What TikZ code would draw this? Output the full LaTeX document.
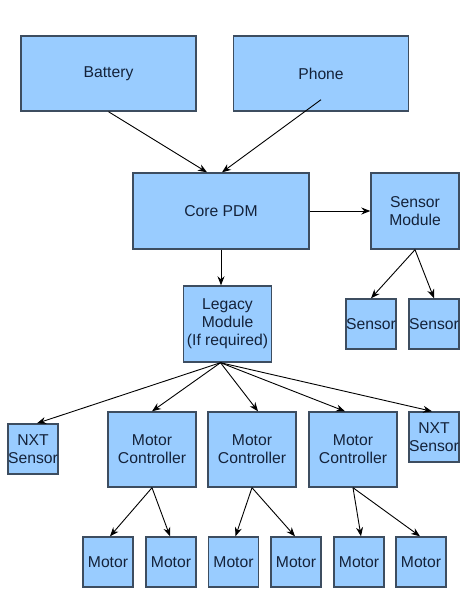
\documentclass[tikz,border=0pt]{standalone}
\usepackage{fontspec}
\setmainfont{Liberation Sans}
\usetikzlibrary{arrows.meta}

\begin{document}
\begin{tikzpicture}[x=1pt,y=-1pt,
        caja/.style={draw=borde,fill=relleno,line width=1.4pt,text=texto,align=center,
            inner sep=0pt,font=\fontsize{15.7}{18}\selectfont},
        chica/.style={caja,minimum width=50pt,minimum height=50pt},
        media/.style={caja,minimum width=88pt,minimum height=75pt},
        grande/.style={caja,minimum width=175pt,minimum height=75pt},
        flecha/.style={-{Stealth[length=9pt,width=7pt]},line width=0.9pt}]
        %colores
        \definecolor{relleno}{HTML}{99CCFF}
        \definecolor{borde}{HTML}{3D4D60}
        \definecolor{texto}{HTML}{14223A}
        \useasboundingbox (0,0) rectangle (467,603);

        % Fuentes de energia
        \node[grande] (bateria) at (108.5,73.5) {Battery};
        \node[grande] (telefono) at (321,73.5) {Phone};

        % Nucleo y modulos
        \node[grande,minimum width=176pt,minimum height=76pt] (core) at (221,211) {Core PDM};
        \node[media,minimum height=76pt] (sensmod) at (415,211) {Sensor\\Module};
        \node[media,minimum height=76pt] (legado) at (227.5,324) {Legacy\\Module\\(If required)};
        \node[chica] (sensA) at (371,324) {Sensor};
        \node[chica] (sensB) at (434,324) {Sensor};

        % Fila de controladores
        \node[chica] (nxtA) at (33,449) {NXT\\Sensor};
        \node[media] (ctrlA) at (152,449.5) {Motor\\Controller};
        \node[media] (ctrlB) at (252,449.5) {Motor\\Controller};
        \node[media] (ctrlC) at (353,449.5) {Motor\\Controller};
        \node[chica] (nxtB) at (434,437) {NXT\\Sensor};

        % Motores
        \foreach \n/\x in {1/108,2/171,3/233.5,4/296,5/359,6/421}
            \node[chica] (motor\n) at (\x,562) {Motor};

        % Flechas
        \draw[flecha] (bateria.south) -- ([xshift=-14pt]core.north);
        \draw[flecha] ([yshift=12pt]telefono.south) -- ([xshift=1pt]core.north);
        \draw[flecha] (core.east) -- (sensmod.west);
        \draw[flecha] (core.south) -- ([xshift=-6.5pt]legado.north);
        \draw[flecha] (sensmod.south) -- (sensA.north);
        \draw[flecha] (sensmod.south) -- (sensB.north);

        \draw[flecha] ([xshift=-7pt]legado.south) -- ([xshift=4pt]nxtA.north);
        \draw[flecha] ([xshift=-7pt]legado.south) -- (ctrlA.north);
        \draw[flecha] ([xshift=-7pt]legado.south) -- ([xshift=6pt]ctrlB.north);
        \draw[flecha] ([xshift=-7pt]legado.south) -- ([xshift=-8pt]ctrlC.north);
        \draw[flecha] ([xshift=-7pt]legado.south) -- ([xshift=-2pt]nxtB.north);

        \foreach \c/\a/\b in {ctrlA/1/2,ctrlB/3/4,ctrlC/5/6}{
            \draw[flecha] (\c.south) -- ([xshift=2pt]motor\a.north);
            \draw[flecha] (\c.south) -- ([xshift=-1pt]motor\b.north);
        }
    \end{tikzpicture}
\end{document}
